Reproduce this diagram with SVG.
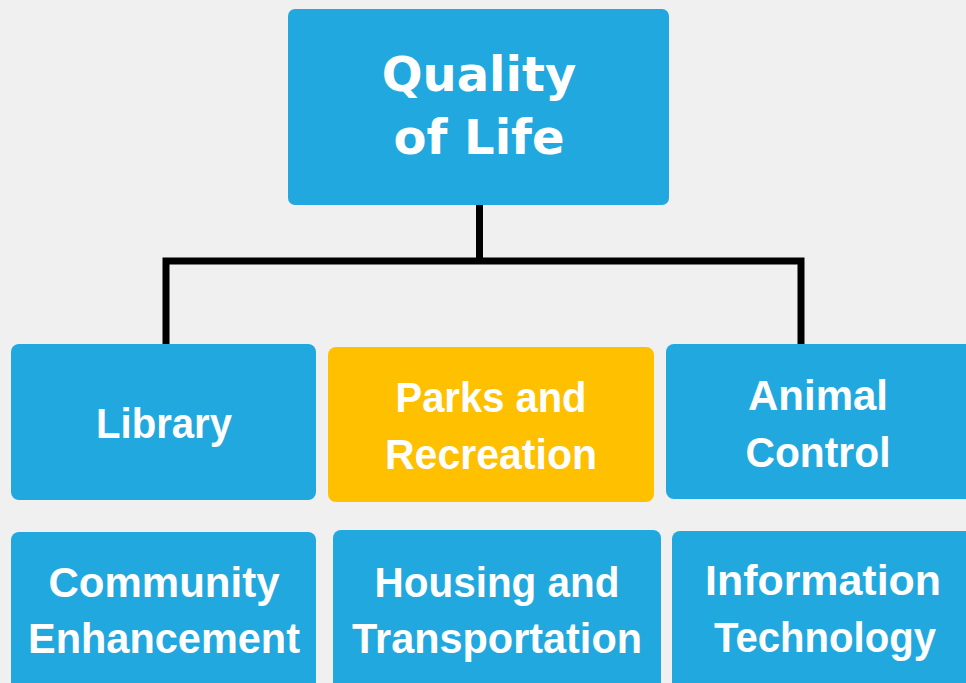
<svg xmlns="http://www.w3.org/2000/svg" width="966" height="683" viewBox="0 0 966 683">
<style>
.b{fill:#21A8DE}
.y{fill:#FFC000}
.t{fill:#fff;font-family:"Liberation Sans",Arial,sans-serif;font-weight:bold;font-size:43px;text-anchor:middle}
.q{fill:#fff;font-family:"DejaVu Sans",Verdana,sans-serif;font-weight:bold;font-size:48px;text-anchor:middle}
.c{fill:none;stroke:#000;stroke-width:7}
</style>
<rect width="966" height="683" fill="#F0F0F0"/>
<g id="connectors">
<path class="c" d="M479.5 205V261M166 345V261H801V345"/>
</g>
<g id="quality">
<rect class="b" x="288" y="9" width="381" height="196" rx="7"/>
<text class="q" x="479" y="91">Quality</text>
<text class="q" x="479" y="154">of Life</text>
</g>
<g id="library">
<rect class="b" x="11" y="344" width="305" height="156" rx="8"/>
<text class="t" x="164" y="438" textLength="136" lengthAdjust="spacingAndGlyphs">Library</text>
</g>
<g id="parks">
<rect class="y" x="328" y="347" width="326" height="155" rx="8"/>
<text class="t" x="491" y="412" textLength="191" lengthAdjust="spacingAndGlyphs">Parks and</text>
<text class="t" x="491" y="469" textLength="212" lengthAdjust="spacingAndGlyphs">Recreation</text>
</g>
<g id="animal">
<rect class="b" x="666" y="344" width="310" height="155" rx="8"/>
<text class="t" x="818" y="410" textLength="140" lengthAdjust="spacingAndGlyphs">Animal</text>
<text class="t" x="818" y="467" textLength="145" lengthAdjust="spacingAndGlyphs">Control</text>
</g>
<g id="community">
<rect class="b" x="11" y="532" width="305" height="170" rx="8"/>
<text class="t" x="164" y="597" textLength="231" lengthAdjust="spacingAndGlyphs">Community</text>
<text class="t" x="164" y="653" textLength="272" lengthAdjust="spacingAndGlyphs">Enhancement</text>
</g>
<g id="housing">
<rect class="b" x="333" y="530" width="328" height="170" rx="8"/>
<text class="t" x="497" y="597" textLength="245" lengthAdjust="spacingAndGlyphs">Housing and</text>
<text class="t" x="497" y="653" textLength="290" lengthAdjust="spacingAndGlyphs">Transportation</text>
</g>
<g id="info">
<rect class="b" x="672" y="531" width="310" height="170" rx="8"/>
<text class="t" x="823" y="595" textLength="236" lengthAdjust="spacingAndGlyphs">Information</text>
<text class="t" x="825" y="652" textLength="222" lengthAdjust="spacingAndGlyphs">Technology</text>
</g>
</svg>
